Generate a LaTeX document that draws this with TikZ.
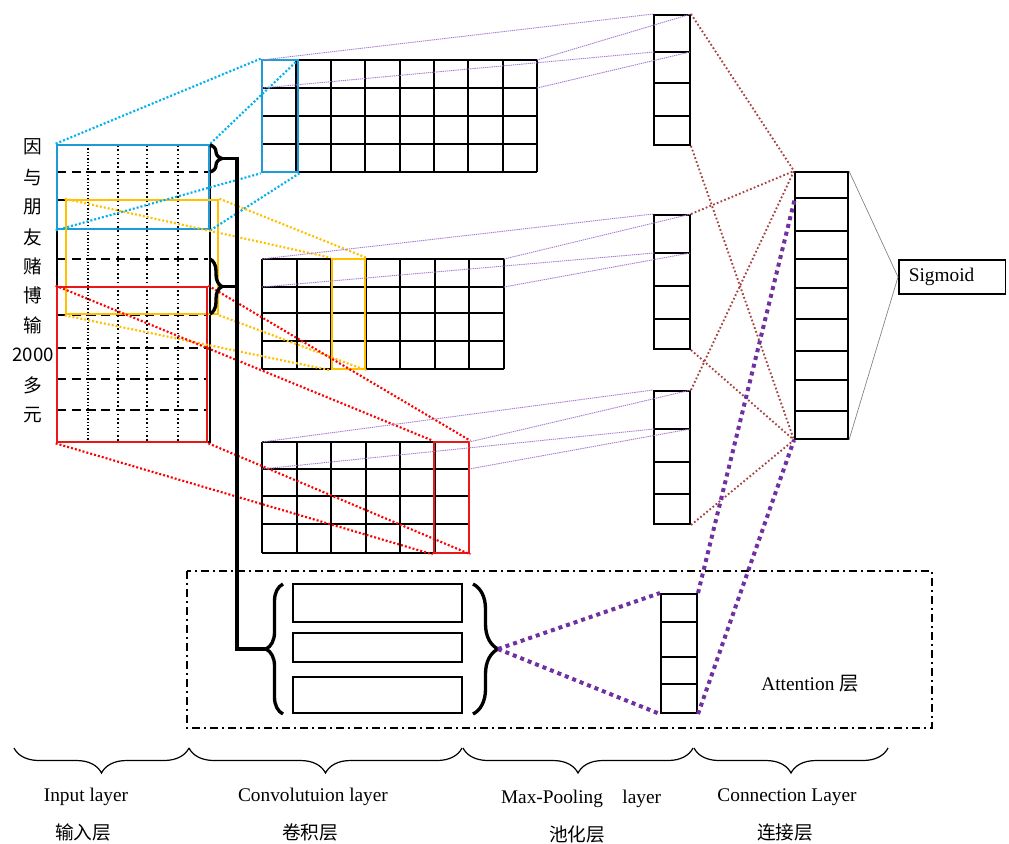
\documentclass[tikz,border=0pt]{standalone}
\usepackage{fontspec}
\setmainfont{Liberation Serif}
\newfontfamily\cjk{Noto Sans CJK SC}
\usetikzlibrary{decorations.pathreplacing}
\definecolor{cblue}{HTML}{1E9AD6}
\definecolor{dblue}{HTML}{00B0F0}
\definecolor{cyel}{HTML}{FFC000}
\definecolor{cred}{HTML}{E81818}
\definecolor{cpurple}{HTML}{7030A0}
\definecolor{lpurple}{HTML}{A57ED0}
\definecolor{cbrown}{HTML}{A5423F}
\tikzset{
	cell/.style={line width=1.5pt},
	box/.style 2 args={inner sep=0pt, minimum width=#1*0.75pt, minimum height=#2*0.75pt},
	hl/.style={line width=2pt, inner sep=0pt},
	bdot/.style={dblue, line width=1.6pt, dash pattern=on 1.5pt off 1.5pt},
	ydot/.style={cyel, line width=1.6pt, dash pattern=on 1.5pt off 1.5pt},
	rdot/.style={red, line width=1.6pt, dash pattern=on 1.5pt off 1.5pt},
	pthin/.style={lpurple, line width=0.7pt, dash pattern=on 1pt off 0.6pt},
	brn/.style={cbrown, line width=1.4pt, dash pattern=on 1.3pt off 1.7pt},
	pthick/.style={cpurple, line width=3pt, dash pattern=on 3pt off 3pt},
	brc/.style={decorate, decoration={brace, amplitude=#1}, line width=2.5pt},
	lbrc/.style={decorate, decoration={brace, amplitude=#1}, line width=0.9pt},
	lab/.style={font=\fontsize{14.5pt}{17pt}\selectfont},
	labc/.style={font=\cjk\fontsize{14pt}{17pt}\selectfont},
}
\begin{document}
\begin{tikzpicture}[x=0.75pt,y=-0.75pt]
\useasboundingbox (0,0) rectangle (1009,843);

% input layer
\foreach \y in {172,200,229,259,287,315,348,379,410}
	\draw[line width=1.3pt, dash pattern=on 7pt off 4pt] (57,\y) -- (208,\y);
\draw[line width=0.8pt, dash pattern=on 1pt off 1.5pt] (88,145) -- (88,442);
\foreach \x in {118,147,178}
	\draw[line width=1.3pt, dash pattern=on 1.2pt off 2pt] (\x,145) -- (\x,442);
\draw[line width=1.3pt] (57,145) rectangle (210,442);
\foreach \t/\y [count=\i] in {因/147,与/178,朋/207,友/237,赌/266,博/295,输/325,2000/355,多/385,元/415}
	\node[labc] (w\i) at (33,\y) {\t};

% convolution maps
\foreach \i in {0,...,8}
	\draw[cell] ({262+\i*34.375},60) -- ({262+\i*34.375},172);
\foreach \y in {60,88,116,144,172}
	\draw[cell] (262,\y) -- (537,\y);
\foreach \i in {0,...,7}
	\draw[cell] ({262+\i*34.57},259) -- ({262+\i*34.57},369);
\foreach \y in {259,287,313,341,369}
	\draw[cell] (262,\y) -- (504,\y);
\foreach \i in {0,...,6}
	\draw[cell] ({262+\i*34.5},442) -- ({262+\i*34.5},553);
\foreach \y in {442,469,496,524,553}
	\draw[cell] (262,\y) -- (469,\y);
\coordinate (m1) at (262,60);
\coordinate (m1a) at (262,88);
\coordinate (m1r) at (537,60);
\coordinate (m1b) at (537,88);
\coordinate (m2) at (262,259);
\coordinate (m2a) at (262,287);
\coordinate (m2r) at (504,259);
\coordinate (m2b) at (504,287);
\coordinate (m3) at (262,442);
\coordinate (m3a) at (262,469);
\coordinate (m3r) at (469,442);
\coordinate (m3b) at (469,469);

% coloured windows
\node[hl, draw=cblue, box={152}{84}] (inB) at (133,187) {};
\node[hl, draw=cblue, box={36}{112}] (cvB) at (280,116) {};
\node[hl, draw=cyel, box={152}{114}] (inY) at (142,257) {};
\node[hl, draw=cyel, box={33}{110}] (cvY) at (348.5,314) {};
\node[hl, draw=cred, box={150}{155}] (inR) at (132,364.5) {};
\node[hl, draw=cred, box={35}{111}] (cvR) at (451.5,497.5) {};

\draw[bdot] (inB.north west) -- (cvB.north west);
\draw[bdot] (inB.north east) -- (cvB.north east);
\draw[bdot] (inB.south west) -- (cvB.south west);
\draw[bdot] (inB.south east) -- (cvB.south east);
\draw[ydot] (inY.north west) -- (cvY.north west);
\draw[ydot] (inY.north east) -- (cvY.north east);
\draw[ydot] (inY.south west) -- (cvY.south west);
\draw[ydot] (inY.south east) -- (cvY.south east);
\draw[rdot] (inR.north west) -- (cvR.north west);
\draw[rdot] (inR.north east) -- (cvR.north east);
\draw[rdot] (inR.south west) -- (cvR.south west);
\draw[rdot] (inR.south east) -- (cvR.south east);

% pooling columns
\node[cell, draw, box={36}{130}] (p1) at (672,80) {};
\node[cell, draw, box={36}{134}] (p2) at (672,282) {};
\node[cell, draw, box={36}{133}] (p3) at (672,457.5) {};
\node[cell, draw, box={36}{119}] (p4) at (679,653.5) {};
\foreach \y in {52,83,116}
	\draw[cell] (654,\y) -- (690,\y);
\foreach \y in {253,286,319}
	\draw[cell] (654,\y) -- (690,\y);
\foreach \y in {429,462,494}
	\draw[cell] (654,\y) -- (690,\y);
\foreach \y in {622,657,684}
	\draw[cell] (661,\y) -- (697,\y);
\coordinate (p1a) at (654,52);
\coordinate (p1b) at (690,52);
\coordinate (p2a) at (654,253);
\coordinate (p2b) at (690,253);
\coordinate (p3a) at (654,429);
\coordinate (p3b) at (690,429);

\draw[pthin] (m1) -- (p1.north west);
\draw[pthin] (m1a) -- (p1a);
\draw[pthin] (m1r) -- (p1.north east);
\draw[pthin] (m1b) -- (p1b);
\draw[pthin] (m2) -- (p2.north west);
\draw[pthin] (m2a) -- (p2a);
\draw[pthin] (m2r) -- (p2.north east);
\draw[pthin] (m2b) -- (p2b);
\draw[pthin] (m3) -- (p3.north west);
\draw[pthin] (m3a) -- (p3a);
\draw[pthin] (m3r) -- (p3.north east);
\draw[pthin] (m3b) -- (p3b);

% connection layer
\node[cell, draw, box={53}{267}] (conn) at (821.5,305.5) {};
\foreach \y in {198,231,259,288,319,351,380,411}
	\draw[cell] (795,\y) -- (848,\y);
\coordinate (c1) at (795,198);
\node[draw, line width=1.2pt, anchor=west, minimum height=25.5pt, inner xsep=7.5pt,
	text width=65pt, align=left, lab] (sig) at (898,277) {Sigmoid};
\draw[gray, line width=0.5pt] (conn.north east) -- (sig.west) -- (conn.south east);

\draw[brn] (p1.north east) -- (conn.north west);
\draw[brn] (p1.south east) -- (conn.south west);
\draw[brn] (p2.north east) -- (conn.north west);
\draw[brn] (p2.south east) -- (conn.south west);
\draw[brn] (p3.north east) -- (conn.north west);
\draw[brn] (p3.south east) -- (conn.south west);

% attention layer
\draw[line width=1.1pt, dash pattern=on 6pt off 3pt on 1.5pt off 3pt] (187,571) rectangle (932,728);
\node[draw, line width=1.2pt, box={169}{38}] (a1) at (377.5,603) {};
\node[draw, line width=1.2pt, box={169}{29}] (a2) at (377.5,647.5) {};
\node[draw, line width=1.2pt, box={169}{36}] (a3) at (377.5,695) {};
\draw[brc=12.75pt] (283,714) -- (283,584);
\draw[brc=18.75pt] (473,584) -- (473,714);
\coordinate (aL) at (266,649);
\coordinate (aR) at (498,649);
\node[lab] (att) at (810,684) {Attention {\cjk 层}};

\draw[pthick] (aR) -- (p4.north west);
\draw[pthick] (aR) -- (p4.south west);
\draw[pthick] (p4.north east) -- (c1);
\draw[pthick] (p4.south east) -- (conn.south west);

% braces from the input
\draw[brc=9pt] (210,145) -- (210,172);
\draw[brc=9pt] (210,259) -- (210,314);
\coordinate (t1) at (223,158.5);
\coordinate (t2) at (223,286.5);
\coordinate (v2) at (237,286.5);
\draw[line width=2.8pt] (t1) -- ++(14,0) |- (aL);
\draw[line width=2.8pt] (t2) -- (v2);

% bottom braces
\draw[lbrc=18.75pt] (189,748) -- (14,748);
\draw[lbrc=18.75pt] (462,748) -- (189,748);
\draw[lbrc=18.75pt] (693,748) -- (463,748);
\draw[lbrc=18.75pt] (888,748) -- (694,748);
\node[lab] (l1) at (86,797) {Input layer};
\node[labc] (l1c) at (83,832) {输入层};
\node[lab] (l2) at (313,797) {Convolutuion layer};
\node[labc] (l2c) at (310,832) {卷积层};
\node[lab] (l3) at (581,799) {Max-Pooling\quad layer};
\node[labc] (l3c) at (577,834) {池化层};
\node[lab] (l4) at (787,797) {Connection Layer};
\node[labc] (l4c) at (785,832) {连接层};
\end{tikzpicture}
\end{document}
